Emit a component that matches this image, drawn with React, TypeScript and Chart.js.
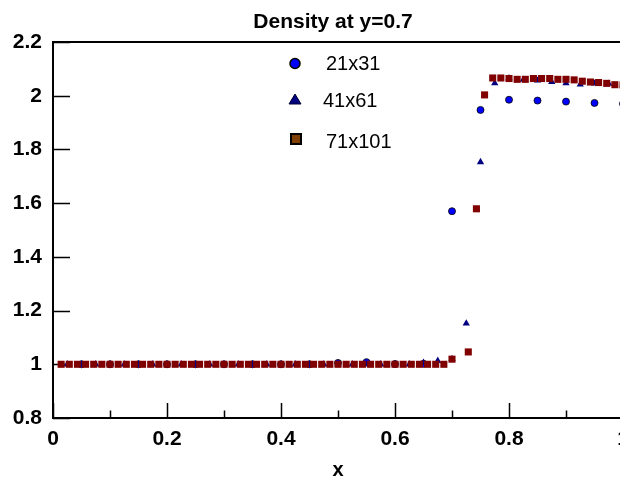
import React, { useEffect, useRef } from 'react';
import { Chart, registerables } from 'chart.js';

Chart.register(...registerables);

const TITLE = 'Density at y=0.7';
const X_TITLE = 'x';
const SERIES_NAMES = ['21x31', '41x61', '71x101'];

const X_TICKS = [0, 0.2, 0.4, 0.6, 0.8, 1];
const X_MINOR = [0.1, 0.3, 0.5, 0.7, 0.9];
const Y_TICKS = [0.8, 1, 1.2, 1.4, 1.6, 1.8, 2, 2.2];

// 21x31 mesh: values at x = i/20
const CIRCLE_Y: (number | null)[] = [
  null, 1, 1, 1, 1, 1, 1, 1, 1, 1,
  1.005, 1.008, 1.001, 1.002, 1.57, 1.947, 1.985, 1.982, 1.978, 1.973,
  1.97,
];

// 41x61 mesh: values at x = i/40
const TRI_Y: (number | null)[] = [
  null, 1, 1, 1, 1, 1, 1, 1, 1, 1,
  1, 1, 1, 1, 1, 1, 1, 1, 1, 1,
  1, 1, 1, 1, 1, 1, 1.006, 1.013, 1.02, 1.152,
  1.753, 2.047, 2.065, 2.06, 2.057, 2.051, 2.047, 2.042, 2.046, 2.045,
  2.04,
];

// 71x101 mesh: values at x = i/70
const SQ_Y: (number | null)[] = [
  null, 1, 1, 1, 1, 1, 1, 1, 1, 1,
  1, 1, 1, 1, 1, 1, 1, 1, 1, 1,
  1, 1, 1, 1, 1, 1, 1, 1, 1, 1,
  1, 1, 1, 1, 1, 1, 1, 1, 1, 1,
  1, 1, 1, 1, 1, 1, 1, 1, 1, 1.019,
  null, 1.046, 1.579, 2.003, 2.066, 2.066, 2.064, 2.061, 2.061, 2.064,
  2.064, 2.064, 2.061, 2.061, 2.059, 2.054, 2.051, 2.049, 2.046, 2.041,
  2.04,
];

const FONT = '"Liberation Sans", Arial, Helvetica, sans-serif';

function toPoints(ys: (number | null)[]) {
  const n = ys.length - 1;
  return ys
    .map((y, i) => ({ x: i / n, y }))
    .filter((p) => p.y !== null) as { x: number; y: number }[];
}

const fmt = (v: number) => String(+Number(v).toFixed(2));

const framePlugin = {
  id: 'frame',
  beforeDatasetsDraw(chart: any) {
    const { ctx, chartArea, scales } = chart;
    const { left, right, top, bottom } = chartArea;
    const xs = scales.x;
    const ys = scales.y;
    ctx.save();
    ctx.strokeStyle = '#000';
    ctx.lineWidth = 1.5;
    ctx.beginPath();
    X_TICKS.forEach((v) => {
      const px = Math.round(xs.getPixelForValue(v)) + 0.5;
      ctx.moveTo(px, bottom);
      ctx.lineTo(px, bottom - 15);
    });
    X_MINOR.forEach((v) => {
      const px = Math.round(xs.getPixelForValue(v)) + 0.5;
      ctx.moveTo(px, bottom);
      ctx.lineTo(px, bottom - 7.5);
    });
    Y_TICKS.forEach((v) => {
      const py = Math.round(ys.getPixelForValue(v)) + 0.5;
      ctx.moveTo(left, py);
      ctx.lineTo(left + 17, py);
    });
    ctx.stroke();
    ctx.lineWidth = 2;
    ctx.strokeRect(left, top, right - left, bottom - top);
    ctx.restore();
  },
};

const overlayPlugin = {
  id: 'overlay',
  afterDraw(chart: any) {
    const { ctx, chartArea } = chart;
    const { left, right, top } = chartArea;
    ctx.save();
    // title
    ctx.fillStyle = '#000';
    ctx.font = `bold 21px ${FONT}`;
    ctx.textAlign = 'center';
    ctx.textBaseline = 'middle';
    ctx.fillText(TITLE, (left + right) / 2 - 5, top - 20);

    // legend
    const lx = left + 242;
    ctx.font = `20px ${FONT}`;
    ctx.textAlign = 'left';
    // circle
    ctx.beginPath();
    ctx.arc(lx, top + 21.5, 5, 0, Math.PI * 2);
    ctx.fillStyle = '#0000ff';
    ctx.fill();
    ctx.lineWidth = 1.5;
    ctx.strokeStyle = '#000';
    ctx.stroke();
    ctx.fillStyle = '#000';
    ctx.fillText(SERIES_NAMES[0], lx + 31, top + 22);
    // triangle
    ctx.beginPath();
    ctx.moveTo(lx, top + 52);
    ctx.lineTo(lx + 6, top + 62);
    ctx.lineTo(lx - 6, top + 62);
    ctx.closePath();
    ctx.fillStyle = '#000080';
    ctx.fill();
    ctx.lineWidth = 1;
    ctx.strokeStyle = '#000033';
    ctx.stroke();
    ctx.fillStyle = '#000';
    ctx.fillText(SERIES_NAMES[1], lx + 28, top + 59);
    // square
    ctx.fillStyle = '#7f3f00';
    ctx.fillRect(lx - 4, top + 92, 10, 10);
    ctx.lineWidth = 2;
    ctx.strokeStyle = '#000';
    ctx.strokeRect(lx - 4, top + 92, 10, 10);
    ctx.fillStyle = '#000';
    ctx.fillText(SERIES_NAMES[2], lx + 31, top + 100.5);
    ctx.restore();
  },
};

export default function App() {
  const ref = useRef<HTMLCanvasElement>(null);

  useEffect(() => {
    if (!ref.current) return;
    const tickFont = { family: FONT, size: 21, weight: 'bold' as const };
    const chart = new Chart(ref.current, {
      type: 'scatter',
      data: {
        datasets: [
          {
            label: SERIES_NAMES[2],
            data: toPoints(SQ_Y),
            pointStyle: 'rect',
            pointRadius: 5,
            backgroundColor: '#800000',
            borderWidth: 0,
            order: 0,
          },
          {
            label: SERIES_NAMES[1],
            data: toPoints(TRI_Y),
            pointStyle: 'triangle',
            pointRadius: 4.2,
            backgroundColor: '#000080',
            borderWidth: 0,
            order: 1,
          },
          {
            label: SERIES_NAMES[0],
            data: toPoints(CIRCLE_Y),
            pointStyle: 'circle',
            pointRadius: 3.5,
            backgroundColor: '#0000ff',
            borderColor: '#000',
            borderWidth: 0.8,
            order: 2,
          },
        ],
      },
      options: {
        animation: false,
        responsive: false,
        devicePixelRatio: 1,
        layout: { padding: { top: 42, right: 17, left: 0, bottom: 0 } },
        plugins: {
          legend: { display: false },
          title: { display: false },
          tooltip: { enabled: false },
        },
        scales: {
          x: {
            type: 'linear',
            min: 0,
            max: 1,
            afterBuildTicks: (s: any) => {
              s.ticks = X_TICKS.map((v) => ({ value: v }));
            },
            afterFit: (s: any) => {
              s.height = 64;
            },
            grid: { display: false, drawTicks: false },
            border: { display: false },
            ticks: {
              font: tickFont,
              color: '#000',
              padding: 9,
              maxRotation: 0,
              autoSkip: false,
              callback: (v: any) => fmt(v),
            },
            title: {
              display: true,
              text: X_TITLE,
              color: '#000',
              font: { family: FONT, size: 20, weight: 'bold' },
              padding: { top: 0, bottom: 0 },
            },
          },
          y: {
            type: 'linear',
            min: 0.8,
            max: 2.2,
            afterBuildTicks: (s: any) => {
              s.ticks = Y_TICKS.map((v) => ({ value: v }));
            },
            afterFit: (s: any) => {
              s.width = 53;
            },
            grid: { display: false, drawTicks: false },
            border: { display: false },
            ticks: {
              font: tickFont,
              color: '#000',
              padding: 11,
              autoSkip: false,
              callback: (v: any) => fmt(v),
            },
          },
        },
      },
      plugins: [framePlugin, overlayPlugin],
    });
    return () => chart.destroy();
  }, []);

  return (
    <div style={{ position: 'fixed', left: 0, top: 0, width: 640, height: 482, background: '#fff' }}>
      <canvas ref={ref} width={640} height={482} style={{ display: 'block', width: 640, height: 482 }} />
    </div>
  );
}
